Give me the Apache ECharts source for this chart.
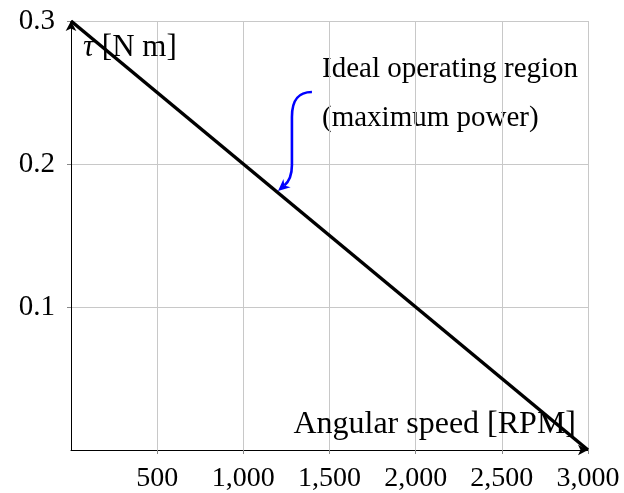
<!DOCTYPE html>
<html>
<head>
<meta charset="utf-8">
<script src="https://cdn.jsdelivr.net/npm/echarts@6/dist/echarts.min.js"></script>
<style>
  html, body { margin: 0; padding: 0; background: #fff; }
  #chart { width: 624px; height: 493px; }
</style>
</head>
<body>
<div id="chart"></div>
<script>
// torque vs speed, straight line from stall torque to no-load speed
const speedRpm = [0, 3000];
const torqueNm = [0.3, 0];

// blue annotation arrow (data coords): start, then cubic segments
const arrowStart = [1398, 0.2503];
const arrowCurve1 = [[1317, 0.2503], [1282, 0.2448], [1282, 0.2329]];
const arrowStraightEnd = [1282, 0.1993];
const arrowCurve2 = [[1282, 0.1902], [1248, 0.1860], [1201, 0.1811]];

const noteLines = ['Ideal operating region', '(maximum power)'];

const serif = '"Liberation Serif", "DejaVu Serif", serif';

const chart = echarts.init(document.getElementById('chart'));

const option = {
    animation: false,
    grid: { left: 71, right: 36, top: 21, bottom: 43 },
    xAxis: {
        type: 'value',
        min: 0,
        max: 3000,
        interval: 500,
        name: 'Angular speed [RPM]',
        nameLocation: 'end',
        nameGap: -12,
        nameTextStyle: {
            fontFamily: serif, fontSize: 32, color: '#000',
            align: 'right', verticalAlign: 'bottom', padding: [0, 0, 9, 0]
        },
        axisLine: { lineStyle: { color: '#000', width: 1 }, symbol: ['none', 'arrow'], symbolSize: [8, 10] },
        axisTick: { show: true, length: 4, inside: false, lineStyle: { color: '#888' } },
        splitLine: { show: true, lineStyle: { color: '#c8c8c8', width: 1 } },
        axisLabel: {
            showMinLabel: false,
            fontFamily: serif, fontSize: 28, color: '#000', margin: 15,
            formatter: v => v.toLocaleString('en-US')
        }
    },
    yAxis: {
        type: 'value',
        min: 0,
        max: 0.3,
        interval: 0.1,
        name: '{i|τ} [N m]',
        nameLocation: 'end',
        nameGap: -27,
        nameTextStyle: {
            fontFamily: serif, fontSize: 31, color: '#000',
            align: 'left', verticalAlign: 'middle', padding: [0, 0, 0, 12],
            rich: { i: { fontFamily: serif, fontSize: 31, fontStyle: 'italic', color: '#000' } }
        },
        axisLine: { show: true, lineStyle: { color: '#000', width: 1 }, symbol: ['none', 'arrow'], symbolSize: [8, 10] },
        axisTick: { show: true, length: 4, lineStyle: { color: '#888' } },
        splitLine: { show: true, lineStyle: { color: '#c8c8c8', width: 1 } },
        axisLabel: {
            showMinLabel: false,
            fontFamily: serif, fontSize: 29, color: '#000', margin: 16,
            formatter: v => v.toFixed(1)
        }
    },
    graphic: noteLines.map((t, i) => ({
        type: 'text',
        left: 322,
        top: 71 + i * 49 - 16,
        style: { text: t, font: '29px ' + serif, fill: '#000' }
    })),
    series: [
        {
            type: 'line',
            data: speedRpm.map((s, i) => [s, torqueNm[i]]),
            symbol: 'none',
            lineStyle: { color: '#000', width: 3.5 },
            z: 3
        },
        {
            type: 'custom',
            data: [arrowStart],
            z: 4,
            renderItem: (params, api) => {
                const p0 = api.coord(arrowStart);
                const c1 = arrowCurve1.map(p => api.coord(p));
                const p2 = api.coord(arrowStraightEnd);
                const c2 = arrowCurve2.map(p => api.coord(p));
                const tip = c2[2];
                const dx = tip[0] - c2[1][0], dy = tip[1] - c2[1][1];
                const len = Math.hypot(dx, dy);
                const ux = dx / len, uy = dy / len;
                const headLen = 12, headW = 5.5;
                const base = [tip[0] - ux * headLen, tip[1] - uy * headLen];
                const notch = [tip[0] - ux * headLen * 0.7, tip[1] - uy * headLen * 0.7];
                const path = 'M' + p0.join(' ') +
                    ' C' + c1.map(p => p.join(' ')).join(' ') +
                    ' L' + p2.join(' ') +
                    ' C' + c2[0].join(' ') + ' ' + c2[1].join(' ') + ' ' + notch.join(' ');
                return {
                    type: 'group',
                    children: [
                        {
                            type: 'path',
                            shape: { pathData: path },
                            style: { fill: 'none', stroke: '#0000ff', lineWidth: 2.6 }
                        },
                        {
                            type: 'polygon',
                            shape: {
                                points: [
                                    tip,
                                    [base[0] - uy * headW, base[1] + ux * headW],
                                    notch,
                                    [base[0] + uy * headW, base[1] - ux * headW]
                                ]
                            },
                            style: { fill: '#0000ff' }
                        }
                    ]
                };
            }
        }
    ]
};

chart.setOption(option);
</script>
</body>
</html>
